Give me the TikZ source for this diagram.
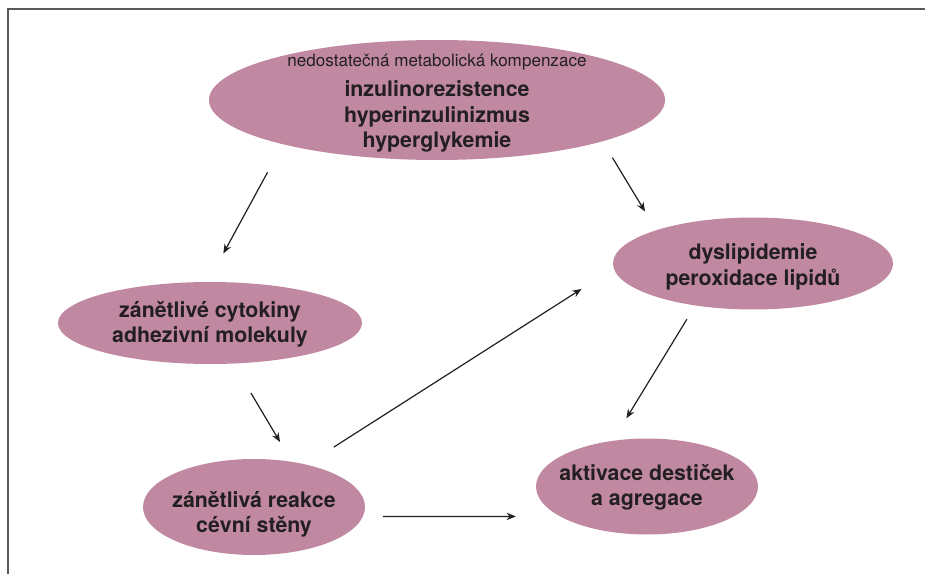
\documentclass[tikz,border=0pt]{standalone}
\usepackage{fontspec}
\setmainfont{TeX Gyre Heros}
\usepackage{tikz}
\usetikzlibrary{shapes.geometric}
\usetikzlibrary{arrows.meta}
\definecolor{mauve}{RGB}{192,136,161}
\definecolor{ink}{RGB}{35,31,32}
\tikzset{blob/.style={ellipse,fill=mauve,inner sep=0pt,outer sep=0pt}}
\tikzset{big/.style={font=\fontsize{16}{19}\selectfont\bfseries,text=ink,align=center,inner sep=0pt}}
\tikzset{sm/.style={font=\fontsize{12.8}{14}\selectfont,text=ink,inner sep=0pt}}
\tikzset{arr/.style={-{Stealth[length=7pt,width=5.5pt]},line width=0.9pt,draw=ink}}

\begin{document}
\begin{tikzpicture}[x=0.75pt,y=-0.75pt]
        \useasboundingbox (0,0) rectangle (925,574);
        \draw[line width=1.5pt,black!65] (925,9.5) -- (8,9.5) -- (8,574);
        \node[blob,minimum width=342pt,minimum height=90pt] (T) at (437,100) {};
        \node[blob,minimum width=228pt,minimum height=61.5pt] (C) at (210,323) {};
        \node[blob,minimum width=210pt,minimum height=69pt] (D) at (753,263.5) {};
        \node[blob,minimum width=166.5pt,minimum height=72pt] (R) at (254,507) {};
        \node[blob,minimum width=166.5pt,minimum height=72pt] (A) at (647,486.5) {};
        \node[sm] (Ts) at (437,62) {nedostatečná metabolická kompenzace};
        \node[big] (Tt) at (437,116.5) {inzulinorezistence\\hyperinzulinizmus\\hyperglykemie};
        \node[big] (Ct) at (210,324) {zánětlivé cytokiny\\adhezivní molekuly};
        \node[big] (Dt) at (753,267) {dyslipidemie\\peroxidace lipidů};
        \node[big] (Rt) at (254,514) {zánětlivá reakce\\cévní stěny};
        \node[big] (At) at (647,487) {aktivace destiček\\a agregace};
        \draw[arr,shorten <=24pt,shorten >=24.3pt] (T.196.8) -- (C.93.2);
        \draw[arr,shorten <=14.3pt,shorten >=16.4pt] (T.346.5) -- (D.161.3);
        \draw[arr,shorten <=25.7pt,shorten >=17.3pt] (C.300.1) -- (R.50.2);
        \draw[arr,shorten <=24.5pt,shorten >=28.7pt] (R.39.6) -- (D.182.7);
        \draw[arr,shorten <=15pt,shorten >=33.2pt] (R.355.3) -- (A.199.1);
        \draw[arr,shorten <=12.2pt,shorten >=19.8pt] (D.216.3) -- (A.127.5);
      \end{tikzpicture}
\end{document}
